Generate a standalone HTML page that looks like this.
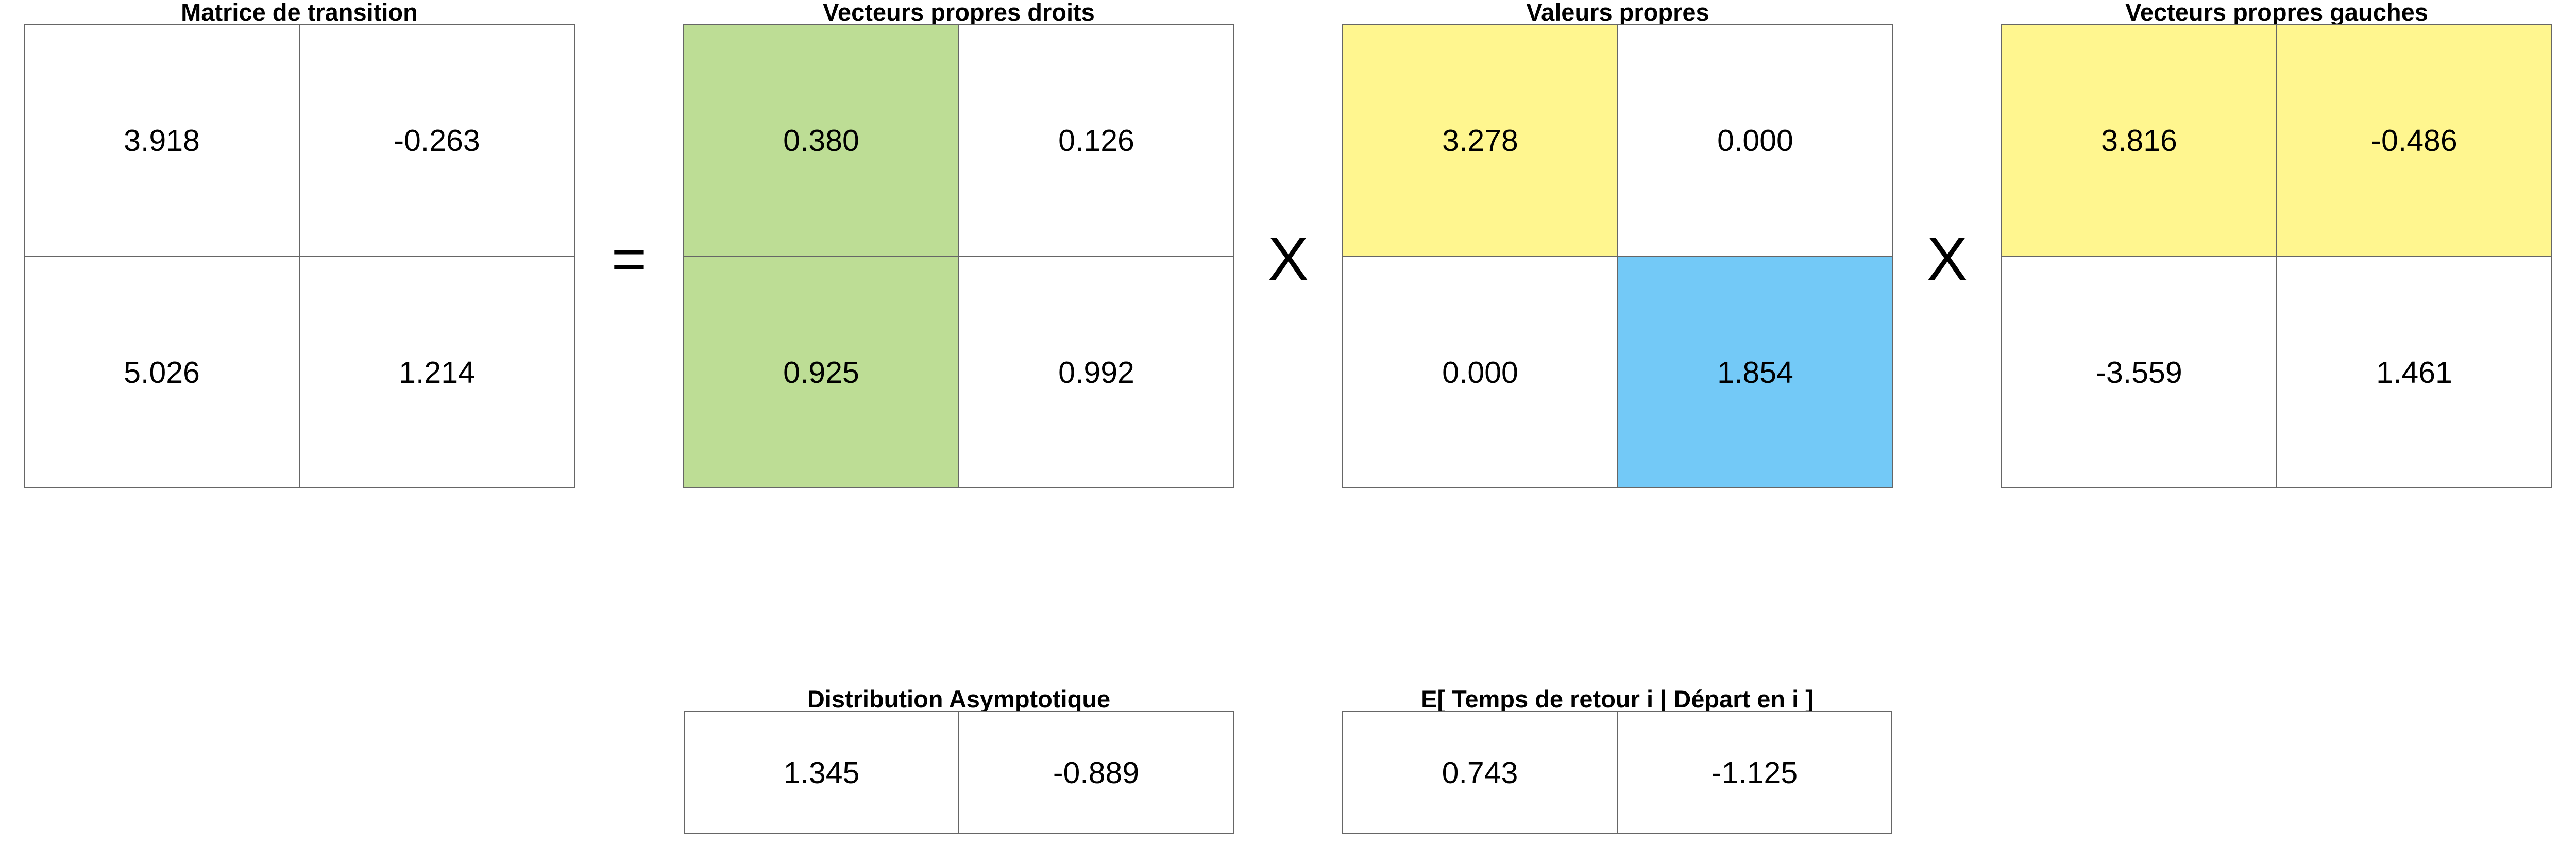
<!DOCTYPE html>
<html><head><meta charset="utf-8"><style>
html,body{margin:0;padding:0;background:#fff;}
svg text{font-family:"Liberation Sans",Arial,sans-serif;}
</style></head><body>
<svg id="chart" width="5000" height="1666" viewBox="0 0 5000 1666" xmlns="http://www.w3.org/2000/svg"></svg>
<script>
// data
const titles = ["Matrice de transition","Vecteurs propres droits","Valeurs propres","Vecteurs propres gauches"];
const transitionValues = [["3.918","-0.263"],["5.026","1.214"]];
const rightVectors = [["0.380","0.126"],["0.925","0.992"]];
const eigenValues = [["3.278","0.000"],["0.000","1.854"]];
const leftVectors = [["3.816","-0.486"],["-3.559","1.461"]];
const rightFill = [["#BDDD95",null],["#BDDD95",null]];
const eigenFill = [["#FFF68F",null],[null,"#73C9F7"]];
const leftFill = [["#FFF68F","#FFF68F"],[null,null]];
const noFill = [[null,null],[null,null]];
const bottomTitles = ["Distribution Asymptotique","E[ Temps de retour i | Départ en i ]"];
const asymptotic = ["1.345","-0.889"];
const returnTimes = ["0.743","-1.125"];
const operators = ["=","X","X"];

const NS="http://www.w3.org/2000/svg";
const svg=document.getElementById('chart');
function mk(tag,attrs,parent){const e=document.createElementNS(NS,tag);for(const k in attrs)e.setAttribute(k,attrs[k]);(parent||svg).appendChild(e);return e;}

const boxX=[47,1327,2606,3885], boxW=1068;
const topY=47, topH=900;
const mats=[transitionValues,rightVectors,eigenValues,leftVectors];
const fills=[noFill,rightFill,eigenFill,leftFill];
const names=["transition-matrix","right-eigenvectors","eigenvalues","left-eigenvectors"];

function drawGrid(x,y,w,h,rows,vals,fl,name,title){
  const g=mk('g',{});
  
  
  const t=mk('text',{x:x+w/2,y:y-7,'text-anchor':'middle','font-size':47,'font-weight':'bold',fill:'#000'},g);
  t.textContent=title;
  
  
  const cw=w/2,ch=h/rows;
  for(let r=0;r<rows;r++)for(let c=0;c<2;c++){
    const cx=x+c*cw,cy=y+r*ch;
    const f=fl&&fl[r][c];
    const rect=mk('rect',{x:cx,y:cy,width:cw,height:ch,fill:f||'#fff',stroke:'#666','stroke-width':2},g);
    
    
    const tx=mk('text',{x:cx+cw/2,y:cy+ch/2+21,'text-anchor':'middle','font-size':59,fill:'#000'},g);
    tx.textContent=vals[r][c];
    
    
  }
}
for(let i=0;i<4;i++) drawGrid(boxX[i],topY,boxW,topH,2,mats[i],fills[i],names[i],titles[i]);
drawGrid(1328,1380,1066,238,1,[asymptotic],null,'asymptotic-distribution',bottomTitles[0]);
drawGrid(2606,1380,1066,238,1,[returnTimes],null,'expected-return-time',bottomTitles[1]);

for(let i=0;i<3;i++){
  const cx=(boxX[i]+boxW+boxX[i+1])/2;
  const o=mk('text',{x:cx,y:543,'text-anchor':'middle','font-size':118,fill:'#000'});
  o.textContent=operators[i];
  
  
}
</script>
</body></html>
